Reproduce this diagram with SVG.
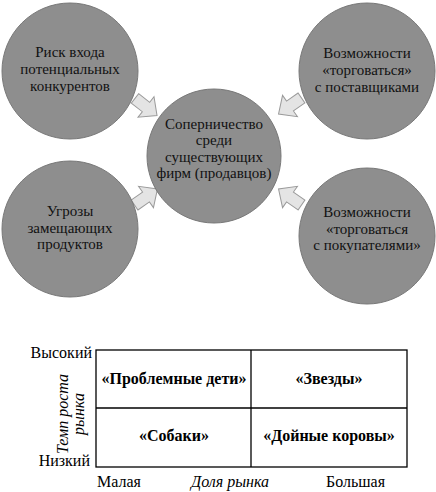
<svg xmlns="http://www.w3.org/2000/svg" width="436" height="492" viewBox="0 0 436 492">
<style>
.c{fill:#8e8e8e;stroke:#787878;stroke-width:1}
.t{font-family:"Liberation Serif","DejaVu Serif",serif;font-size:15px;fill:#111;text-anchor:middle}
.a{fill:#e4e4e4;stroke:#9a9a9a;stroke-width:1}
.ln{stroke:#000;stroke-width:1.3;fill:none}
.b{font-family:"Liberation Serif","DejaVu Serif",serif;font-size:16px;font-weight:bold;fill:#000;text-anchor:middle}
.ax{font-family:"Liberation Serif","DejaVu Serif",serif;font-size:16px;fill:#000}
.it{font-style:italic}
</style>
<defs>
<polygon id="arr" points="-14,-6 0,-6 0,-13 14,0 0,13 0,6 -14,6"/>
</defs>
<g id="connectors">
<use href="#arr" class="a" transform="translate(146,107) rotate(38)"/>
<use href="#arr" class="a" transform="translate(290,106) rotate(145)"/>
<use href="#arr" class="a" transform="translate(146,197) rotate(-35)"/>
<use href="#arr" class="a" transform="translate(290,197) rotate(-145)"/>
</g>
<g id="n_entry">
<circle class="c" cx="70" cy="71" r="68"/>
<text class="t"><tspan x="70" y="57">Риск входа</tspan><tspan x="70" y="74">потенциальных</tspan><tspan x="70" y="91">конкурентов</tspan></text>
</g>
<g id="n_suppliers">
<circle class="c" cx="367" cy="71" r="68"/>
<text class="t"><tspan x="367" y="58">Возможности</tspan><tspan x="367" y="75">«торговаться»</tspan><tspan x="367" y="92">с поставщиками</tspan></text>
</g>
<g id="n_rivalry">
<circle class="c" cx="214" cy="156" r="67"/>
<text class="t"><tspan x="214" y="129">Соперничество</tspan><tspan x="214" y="145">среди</tspan><tspan x="214" y="162">существующих</tspan><tspan x="214" y="178">фирм (продавцов)</tspan></text>
</g>
<g id="n_substitutes">
<circle class="c" cx="70" cy="229" r="68"/>
<text class="t"><tspan x="70" y="216">Угрозы</tspan><tspan x="70" y="233">замещающих</tspan><tspan x="70" y="249">продуктов</tspan></text>
</g>
<g id="n_buyers">
<circle class="c" cx="367" cy="236" r="68"/>
<text class="t"><tspan x="367" y="217">Возможности</tspan><tspan x="367" y="234">«торговаться</tspan><tspan x="367" y="250">с покупателями»</tspan></text>
</g>
<g id="matrix">
<rect class="ln" x="96" y="350" width="311" height="117"/>
<line class="ln" x1="96" y1="408" x2="407" y2="408"/>
<line class="ln" x1="251" y1="350" x2="251" y2="467"/>
<text class="b" x="174" y="384">«Проблемные дети»</text>
<text class="b" x="329" y="384">«Звезды»</text>
<text class="b" x="174" y="441">«Собаки»</text>
<text class="b" x="329" y="441">«Дойные коровы»</text>
<text class="ax" x="92" y="358" text-anchor="end">Высокий</text>
<text class="ax" x="90" y="466" text-anchor="end">Низкий</text>
<text class="ax" x="97" y="487">Малая</text>
<text class="ax it" x="230" y="487" text-anchor="middle">Доля рынка</text>
<text class="ax" x="326" y="487">Большая</text>
<text class="ax it" transform="translate(68,414) rotate(-90)" text-anchor="middle">Темп роста</text>
<text class="ax it" transform="translate(84,414) rotate(-90)" text-anchor="middle">рынка</text>
</g>
</svg>
